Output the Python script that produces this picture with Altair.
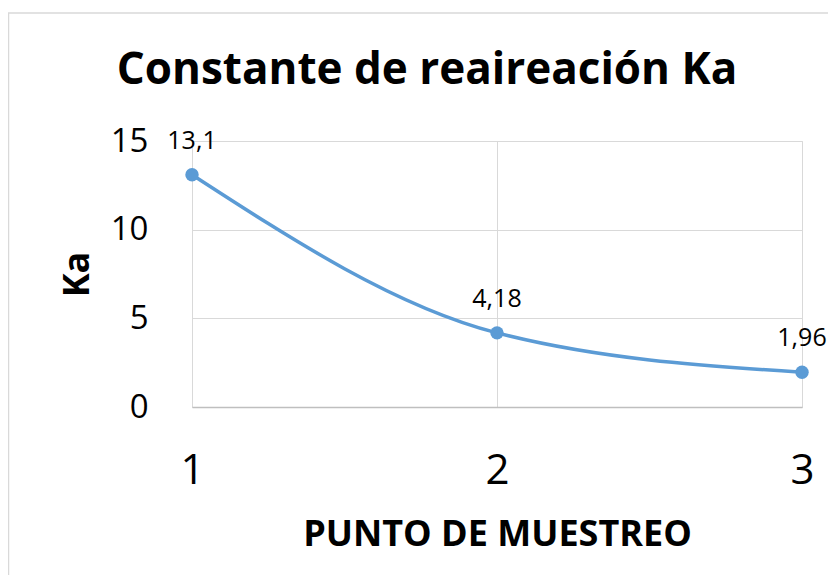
import altair as alt
import pandas as pd

puntos = [1, 2, 3]
ka = [13.1, 4.18, 1.96]
etiquetas = ["13,1", "4,18", "1,96"]

df = pd.DataFrame({"punto": puntos, "ka": ka, "etiqueta": etiquetas})

FONT = "Open Sans"
BLUE = "#5B9BD5"

x_scale = alt.Scale(type="point", padding=0)

x_enc = alt.X(
    "punto:O",
    scale=x_scale,
    axis=alt.Axis(
        title="PUNTO DE MUESTREO",
        titleFont=FONT,
        titleFontSize=36,
        titleFontWeight="bold",
        titleColor="#000000",
        titleY=138,
        titleBaseline="alphabetic",
        labelAngle=0,
        labelFont=FONT,
        labelFontSize=42,
        labelColor="#000000",
        labelBaseline="alphabetic",
        labelPadding=76,
        labelOverlap=False,
        ticks=False,
        domainColor="#BFBFBF",
        domainWidth=1.5,
        grid=True,
        gridColor="#D9D9D9",
    ),
)
y_enc = alt.Y(
    "ka:Q",
    scale=alt.Scale(domain=[0, 15], nice=False),
    axis=alt.Axis(
        values=[0, 5, 10, 15],
        title="Ka",
        titleFont=FONT,
        titleFontSize=36,
        titleFontWeight="bold",
        titleColor="#000000",
        titleAngle=-90,
        titleX=-104,
        titleY=133,
        titleAlign="center",
        titleBaseline="alphabetic",
        labelFont=FONT,
        labelFontSize=33,
        labelColor="#000000",
        labelPadding=44,
        labelOverlap=False,
        labelFlush=False,
        ticks=False,
        domain=False,
        grid=True,
        gridColor="#D9D9D9",
    ),
)

border = alt.Chart(pd.DataFrame({"b": [0]})).mark_rect(
    fill=None, stroke="#D9D9D9", strokeWidth=1.5
).encode(
    x=alt.value(-183.5), x2=alt.value(660), y=alt.value(-128), y2=alt.value(460)
)

line = alt.Chart(df).mark_line(
    color=BLUE, strokeWidth=3.5, interpolate="monotone"
).encode(x=x_enc, y=y_enc)

points = alt.Chart(df).mark_point(
    filled=True, color=BLUE, size=180, opacity=1
).encode(x=alt.X("punto:O", scale=x_scale), y="ka:Q")

labels = alt.Chart(df).mark_text(
    font=FONT, fontSize=25, color="#000000", baseline="alphabetic", dy=-26
).encode(x=alt.X("punto:O", scale=x_scale), y="ka:Q", text="etiqueta:N")

chart = alt.layer(border, line, points, labels).properties(
    width=610,
    height=266,
    title=alt.TitleParams(
        "Constante de reaireación Ka",
        font=FONT,
        fontSize=44,
        fontWeight="bold",
        color="#000000",
        anchor="middle",
        frame="group",
        dx=-70,
        offset=-116,
        baseline="alphabetic",
    ),
    autosize=alt.AutoSizeParams(type="none"),
    padding={"left": 184, "top": 133, "right": 26, "bottom": 168},
).configure_view(stroke=None).configure(background="white")

chart.save("out.html", embed_options={"renderer": "svg", "actions": False})
